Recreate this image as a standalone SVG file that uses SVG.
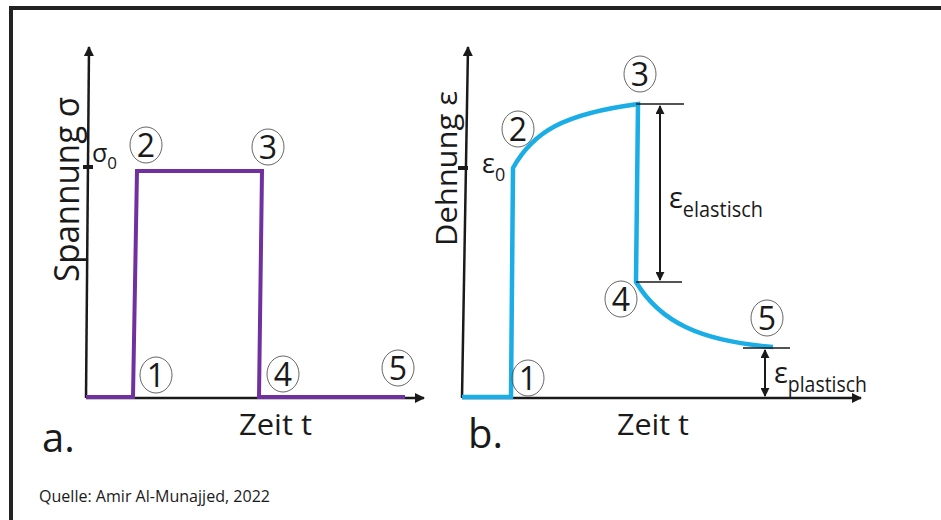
<svg xmlns="http://www.w3.org/2000/svg" width="941" height="520" viewBox="0 0 941 520">
<defs>
<marker id="ah" viewBox="0 0 10 10" refX="9" refY="5" markerWidth="10" markerHeight="10" markerUnits="userSpaceOnUse" orient="auto-start-reverse"><path d="M0,0 L10,5 L0,10 Z" fill="#1a1a1a"/></marker>
<marker id="ahs" viewBox="0 0 10 10" refX="9" refY="5" markerWidth="9" markerHeight="9" markerUnits="userSpaceOnUse" orient="auto-start-reverse"><path d="M0,0 L10,5 L0,10 Z" fill="#1a1a1a"/></marker>
</defs>
<style>
.t{font-family:"Open Sans","Noto Sans","Liberation Sans",sans-serif;fill:#1a1a1a}
.ax{stroke:#1a1a1a;stroke-width:2.5;fill:none}
.thin{stroke:#1a1a1a;stroke-width:1.5;fill:none}
.pu{stroke:#7030A0;stroke-width:4;fill:none;stroke-linejoin:miter}
.bl{stroke:#1AADE6;stroke-width:4.5;fill:none}
.c{fill:none;stroke:#555;stroke-width:0.9}
.d{font-size:32px;text-anchor:middle}
</style>
<rect x="11" y="8" width="940" height="530" fill="#fff" stroke="#222" stroke-width="4"/>

<g id="panel-a">
<line class="ax" x1="86" y1="398" x2="89" y2="47" marker-end="url(#ah)"/>
<line class="ax" x1="86" y1="398" x2="424" y2="398" marker-end="url(#ah)"/>
<line x1="83" y1="167" x2="93" y2="167" stroke="#1a1a1a" stroke-width="4"/>
<path class="pu" d="M86,397 L133,397 L137,171 L262,171 L259,397 L405,397"/>
<text class="t" font-size="34" transform="translate(79,282) rotate(-90)" textLength="185" lengthAdjust="spacingAndGlyphs">Spannung σ</text>
<text class="t" x="92" y="162" font-size="25">σ<tspan font-size="17" dy="7">0</tspan></text>
<g id="a2"><ellipse class="c" cx="146" cy="145" rx="16" ry="18"/><text class="t d" x="146" y="156.5">2</text></g>
<g id="a3"><ellipse class="c" cx="268" cy="147" rx="16" ry="18"/><text class="t d" x="268" y="158.5">3</text></g>
<g id="a1"><ellipse class="c" cx="156" cy="375" rx="16" ry="18"/><text class="t d" x="156" y="386.5">1</text></g>
<g id="a4"><ellipse class="c" cx="283" cy="374" rx="16" ry="18"/><text class="t d" x="283" y="385.5">4</text></g>
<g id="a5"><ellipse class="c" cx="398" cy="368" rx="16" ry="18"/><text class="t d" x="398" y="379.5">5</text></g>
<text class="t" x="239" y="435" font-size="30" textLength="73" lengthAdjust="spacingAndGlyphs">Zeit t</text>
<text class="t" x="42" y="452" font-size="40">a.</text>
</g>

<g id="panel-b">
<line class="ax" x1="462" y1="398" x2="468" y2="47" marker-end="url(#ah)"/>
<line class="ax" x1="462" y1="398" x2="861" y2="398" marker-end="url(#ah)"/>
<line x1="458" y1="168" x2="468" y2="168" stroke="#1a1a1a" stroke-width="4"/>
<path class="bl" d="M462,397 L511,397 L513,168 C533,132 563,114 638,104 L636,282 C660,322 700,341 773,347"/>
<line class="thin" x1="636" y1="104" x2="684" y2="104"/>
<line class="thin" x1="636" y1="282" x2="682" y2="282"/>
<line class="thin" x1="743" y1="348" x2="790" y2="348"/>
<line class="ax" x1="660" y1="106" x2="660" y2="280" marker-start="url(#ahs)" marker-end="url(#ahs)" style="stroke-width:2"/>
<line class="ax" x1="765" y1="350" x2="765" y2="396" marker-start="url(#ahs)" marker-end="url(#ahs)" style="stroke-width:2"/>
<text class="t" font-size="30" transform="translate(457,246) rotate(-90)" textLength="155" lengthAdjust="spacingAndGlyphs">Dehnung ε</text>
<text class="t" x="482" y="173" font-size="27">ε<tspan font-size="18" dy="8">0</tspan></text>
<text class="t" x="669" y="208" font-size="29">ε<tspan font-size="22" dy="9" textLength="80" lengthAdjust="spacingAndGlyphs">elastisch</tspan></text>
<text class="t" x="774" y="383" font-size="29">ε<tspan font-size="22" dy="9" textLength="79" lengthAdjust="spacingAndGlyphs">plastisch</tspan></text>
<g id="b2"><ellipse class="c" cx="518" cy="129" rx="16" ry="18"/><text class="t d" x="518" y="140.5">2</text></g>
<g id="b3"><ellipse class="c" cx="640" cy="74" rx="16" ry="18"/><text class="t d" x="640" y="85.5">3</text></g>
<g id="b4"><ellipse class="c" cx="621" cy="299" rx="16" ry="18"/><text class="t d" x="621" y="310.5">4</text></g>
<g id="b5"><ellipse class="c" cx="767" cy="318" rx="16" ry="18"/><text class="t d" x="767" y="329.5">5</text></g>
<g id="b1"><ellipse class="c" cx="528" cy="378" rx="16" ry="18"/><text class="t d" x="528" y="389.5">1</text></g>
<text class="t" x="617" y="435" font-size="30" textLength="72" lengthAdjust="spacingAndGlyphs">Zeit t</text>
<text class="t" x="468" y="448" font-size="40">b.</text>
</g>

<text class="t" x="39" y="502" font-size="17" textLength="231" lengthAdjust="spacingAndGlyphs">Quelle: Amir Al-Munajjed, 2022</text>
</svg>
